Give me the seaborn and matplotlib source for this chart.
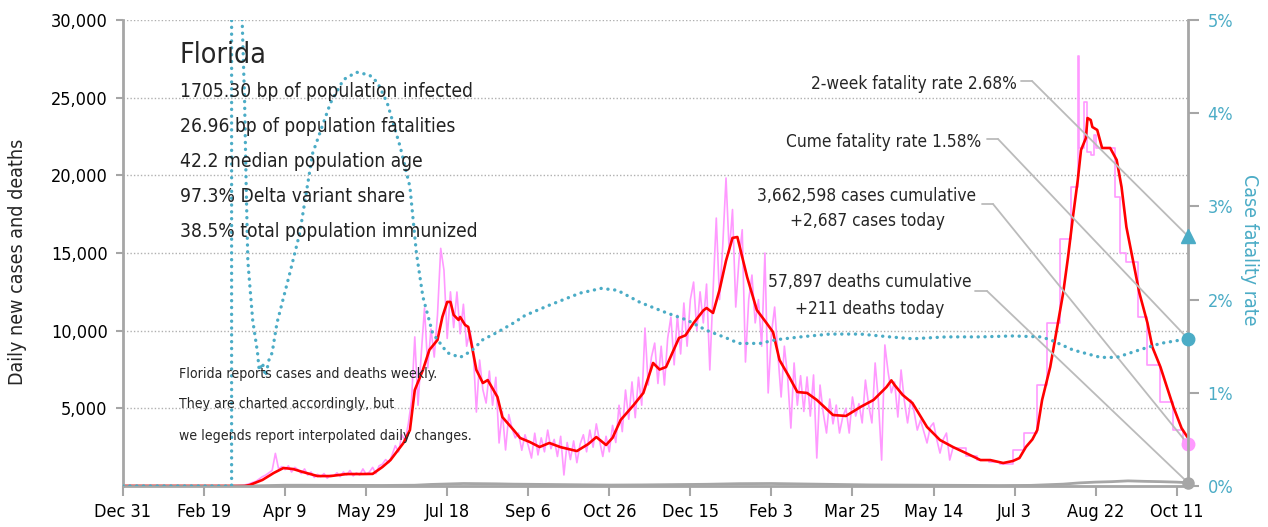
import numpy as np
import pandas as pd
import matplotlib.pyplot as plt
import matplotlib.dates as mdates
import seaborn as sns

sns.set_theme(style="white")
plt.rcParams["font.family"] = ["DejaVu Sans"]
plt.rcParams["font.stretch"] = "condensed"

START = pd.Timestamp("2019-12-31")

# --- data, x given as days since Dec 31 2019 ---

# daily new cases, read every 2 days while Florida reported daily
pink_daily_first_day = 70
pink_daily = [
    10, 30, 50, 90, 150, 230, 300, 450, 600, 700, 850, 1000, 2100, 1100, 1250, 1050,
    1300, 900, 1200, 1050, 800, 1100, 700, 900, 550, 750, 600, 800, 500, 700, 650,
    850, 600, 900, 700, 1000, 650, 850, 700, 1100, 750, 900, 1200, 800, 1300, 1400,
    1700, 1500, 2000, 2600, 2200, 3300, 2900, 4000, 5500, 9600, 5200, 8500, 11460,
    7600, 10100, 8300, 11000, 15300, 13900, 9500, 12500, 10200, 12490, 9800, 11700,
    9000, 10000, 8800, 4760, 8110, 6200, 5340, 7400, 5200, 7000, 2770, 4800, 2320,
    4600, 3700, 3100, 3410, 2300, 3300, 2600,
    1800, 3400, 2000, 3100, 2200, 3600, 2400, 3000, 1900, 3200, 710, 2800, 1700,
    2900, 1500, 2700, 3300, 2200, 3600, 2500, 4000, 2900, 1900, 3200, 2200, 3900,
    2800, 5200, 3500, 6180, 4300, 6700, 4400, 7000, 5200, 10170, 6500, 8300, 9200, 6600,
    9000, 6500, 9500, 10880, 7800, 11000, 8500, 11780, 9000, 12000, 13130, 10000,
    12500, 10500, 13000, 7470, 12500, 17250, 12000, 15500, 19830, 15000, 17800,
    11520, 14550, 16500, 7980, 12000, 13580, 10500, 12000, 9000, 15000, 5990, 9800,
    11520, 8500, 5730, 9000, 7020, 3730, 7920, 5200, 7100, 4800,
    7020, 4500, 7150, 1800, 6500, 4700, 3410, 5600, 4000, 5210, 3410, 4440, 5000,
    3410, 5730, 4500, 5300, 4060, 6820, 5200, 4060, 7920, 5500, 1670, 9080, 7340,
    6000, 6700, 4440, 7470, 5500, 4060, 5540, 4800, 3600, 4250, 3500, 2770, 3800,
    4060, 3000, 2120, 3000, 3410, 1670, 2450,
]

# weekly reporting from June 2021 (drawn as steps)
pink_week_days = [512, 520, 527, 534, 541, 549, 556, 564, 570, 578, 585, 589, 590,
                  593, 595, 597, 599, 600, 612, 615, 619, 626, 632, 640, 648, 654, 657]
pink_week_cases = [2450, 1900, 1650, 1550, 1420, 2320, 3410, 6500, 10490, 15900,
                   19250, 27700, 21760, 24700, 21500, 21300, 22600, 21760, 18610,
                   15000, 14420, 10880, 7790, 5410, 3600, 2687, 2687]

# 7-day average of new cases
red_days = [0, 75, 78, 86, 93, 99, 105, 111, 120, 128, 138, 148, 154, 160, 165, 173,
            177, 180, 185, 189, 194, 197, 200, 202, 204, 207, 208, 211, 213, 218, 222,
            225, 231, 234, 241, 245, 251, 257, 263, 270, 280, 287, 292, 298, 302, 307,
            315, 321, 327, 331, 335, 343, 347, 352, 358, 360, 364, 368, 372, 376, 379,
            385, 391, 397, 401, 405, 411, 416, 422, 428, 438, 446, 455, 463, 471, 474,
            476, 481, 487, 496, 504, 512, 520, 529, 535, 543, 549, 553, 557, 561, 564,
            567, 572, 576, 580, 583, 586, 589, 591, 594, 595, 597, 598, 601, 604, 609,
            613, 616, 619, 623, 627, 632, 635, 640, 644, 648, 653, 657]
red_cases = [0, 0, 60, 390, 840, 1160, 1090, 900, 640, 640, 770, 770, 780, 1220, 1670,
             2770, 3600, 6180, 7470, 8760, 9400, 10880, 11850, 11850, 11010, 10690,
             10880, 10370, 10240, 7470, 6630, 6820, 5730, 4440, 3600, 3090, 2830, 2510,
             2770, 2500, 2250, 2700, 3150, 2640, 3100, 4250, 5210, 5990, 7920, 7500,
             7660, 9530, 9700, 10490, 11300, 11460, 11140, 12620, 14500, 15970, 16030,
             13460, 11330, 10490, 9910, 8110, 7020, 6050, 5990, 5540, 4570, 4510, 5090,
             5540, 6370, 6800, 6500, 5860, 5340, 3800, 2960, 2510, 2120, 1670, 1670,
             1480, 1610, 1800, 2510, 3000, 3600, 5540, 7660, 10040, 12430, 14740, 17320,
             19700, 21630, 22400, 23690, 23560, 23110, 22920, 21760, 21760, 20990,
             19250, 16670, 14550, 12430, 10490, 8950, 7660, 6370, 5090, 3730, 3090]

# daily deaths
death_days = [0, 70, 80, 90, 100, 110, 120, 140, 160, 180, 190, 200, 210, 220, 230,
              240, 250, 260, 280, 300, 320, 340, 360, 380, 400, 420, 440, 460, 480,
              500, 520, 540, 560, 580, 590, 600, 610, 620, 630, 640, 650, 657]
deaths = [0, 0, 10, 30, 50, 50, 45, 40, 35, 50, 100, 130, 160, 150, 140, 120, 110,
          100, 80, 60, 70, 90, 110, 150, 160, 130, 100, 70, 60, 50, 40, 30, 40, 120,
          200, 250, 280, 330, 300, 280, 250, 211]

# case fatality rate, %
cfr_days = [0, 67, 67, 73, 73.5, 75, 76, 77, 78, 80, 83, 84, 86, 88, 90, 92, 95, 103,
            109, 117, 128, 136, 144, 152, 157, 163, 171, 177, 181, 185, 191, 200, 208,
            215, 222, 231, 241, 248, 263, 282, 295, 305, 319, 335, 348, 360, 372, 380,
            393, 403, 418, 436, 455, 473, 487, 508, 529, 549, 566, 572, 586, 603, 613,
            627, 640, 657]
cfr = [0, 0, 8, 8, 5.0, 4.14, 3.21, 2.42, 2.2, 1.78, 1.43, 1.24, 1.32, 1.18, 1.35,
       1.43, 1.75, 2.29, 2.71, 3.57, 4.11, 4.36, 4.44, 4.41, 4.33, 4.11, 3.64, 3.21,
       2.50, 2.03, 1.64, 1.43, 1.38, 1.45, 1.57, 1.65, 1.75, 1.83, 1.94, 2.07, 2.12,
       2.10, 1.97, 1.86, 1.78, 1.67, 1.59, 1.53, 1.53, 1.57, 1.60, 1.63, 1.63, 1.60,
       1.58, 1.60, 1.60, 1.61, 1.60, 1.57, 1.46, 1.38, 1.38, 1.46, 1.53, 1.58]

last_day = 657
two_week_cfr = 2.68
cume_cfr = 1.58
cases_today = 2687
deaths_today = 211

x_tick_days = list(range(0, 651, 50))
x_tick_labels = ["Dec 31", "Feb 19", "Apr 9", "May 29", "Jul 18", "Sep 6", "Oct 26",
                 "Dec 15", "Feb 3", "Mar 25", "May 14", "Jul 3", "Aug 22", "Oct 11"]

info_title = "Florida"
info_lines = ["1705.30 bp of population infected",
              "26.96 bp of population fatalities",
              "42.2 median population age",
              "97.3% Delta variant share",
              "38.5% total population immunized"]
note_lines = ["Florida reports cases and deaths weekly.",
              "They are charted accordingly, but",
              "we legends report interpolated daily changes."]


def to_dates(days):
    return START + pd.to_timedelta(np.asarray(days, dtype=float), unit="D")


PINK = "#ff99ff"
RED = "#ff0000"
GREY = "#a6a6a6"
TEAL = "#4bacc6"

W, H = 1268, 527
fig = plt.figure(figsize=(W / 100, H / 100), dpi=100)
ax = fig.add_axes([123 / W, 41 / H, 1065 / W, 466 / H])
ax2 = ax.twinx()

pink_days = pink_daily_first_day + 2 * np.arange(len(pink_daily))
sns.lineplot(x=to_dates(pink_days), y=pink_daily, ax=ax, color=PINK, lw=1.2,
             estimator=None, sort=False)
sns.lineplot(x=to_dates(pink_week_days), y=pink_week_cases, ax=ax, color=PINK, lw=1.2,
             estimator=None, sort=False, drawstyle="steps-post")
sns.lineplot(x=to_dates(death_days), y=deaths, ax=ax, color=GREY, lw=2.0,
             estimator=None, sort=False)
sns.lineplot(x=to_dates(red_days), y=red_cases, ax=ax, color=RED, lw=1.9,
             estimator=None, sort=False)
sns.lineplot(x=to_dates(cfr_days), y=cfr, ax=ax2, color=TEAL, lw=2.4,
             estimator=None, sort=False)
ax2.lines[-1].set_linestyle((0, (0.05, 2.0)))
ax2.lines[-1].set_dash_capstyle("round")

end = mdates.date2num(to_dates([last_day])[0])
ax.plot([end], [cases_today], "o", color=PINK, ms=9, clip_on=False, zorder=5)
ax.plot([end], [deaths_today], "o", color=GREY, ms=8, clip_on=False, zorder=5)
ax2.plot([end], [cume_cfr], "o", color=TEAL, ms=9, clip_on=False, zorder=5)
ax2.plot([end], [two_week_cfr], "^", color=TEAL, ms=10, clip_on=False, zorder=5)

ax.set_xlim(mdates.date2num(START), end)
ax.set_ylim(0, 30000)
ax2.set_ylim(0, 5)

ax.set_xticks(to_dates(x_tick_days))
ax.set_xticklabels(x_tick_labels)
ax.set_yticks(range(5000, 30001, 5000))
ax.set_yticklabels([f"{v:,}" for v in range(5000, 30001, 5000)])
ax2.set_yticks(range(0, 6))
ax2.set_yticklabels([f"{v}%" for v in range(0, 6)])

for y in range(5000, 30001, 5000):
    ax.axhline(y, color="#b0b0b0", lw=1.0, ls=(0, (1, 1.5)), zorder=0)

for a in (ax, ax2):
    for s in a.spines.values():
        s.set_color(GREY)
        s.set_linewidth(2)
    a.spines["top"].set_visible(False)
ax.spines["right"].set_visible(False)
ax2.spines["left"].set_visible(False)
ax2.spines["bottom"].set_visible(False)

ax.tick_params(axis="x", length=7, width=1.5, color=GREY, pad=5, labelsize=13,
               labelcolor="black", bottom=True)
ax.tick_params(axis="y", length=5, width=1.5, color=GREY, pad=6, labelsize=13,
               labelcolor="black", left=True)
ax2.tick_params(axis="y", length=8, width=1.5, color=GREY, pad=6, labelsize=13,
                labelcolor=TEAL, right=True)

ax.set_xlabel("")
ax.set_ylabel("")
ax2.set_ylabel("")
fig.text(18 / W, 1 - 262 / H, "Daily new cases and deaths", rotation=90,
         ha="center", va="center", fontsize=14)
fig.text(1250 / W, 1 - 250 / H, "Case fatality rate", rotation=270,
         ha="center", va="center", fontsize=14, color=TEAL)

# info block
fig.text(180 / W, 1 - 63 / H, info_title, fontsize=20.5, va="baseline")
for i, line in enumerate(info_lines):
    fig.text(180 / W, 1 - (97 + 35 * i) / H, line, fontsize=13.8, va="baseline",
             color="#222222")
for i, line in enumerate(note_lines):
    fig.text(179 / W, 1 - [378, 408, 440][i] / H, line, fontsize=10.1, va="baseline")

# labels with leader lines to the end markers
labels = [
    (["2-week fatality rate 2.68%"], 1017, [89], "right", (1021, 1032, 81),
     ax2, two_week_cfr),
    (["Cume fatality rate 1.58%"], 981, [147], "right", (987, 998, 139),
     ax2, cume_cfr),
    (["3,662,598 cases cumulative", "+2,687 cases today"], 867, [201, 226], "center",
     (982, 993, 204), ax, cases_today),
    (["57,897 deaths cumulative", "+211 deaths today"], 870, [287, 314], "center",
     (975, 987, 291), ax, deaths_today),
]
for texts, tx, ty, ha, (x0, x1, ly), a, val in labels:
    for t, yb in zip(texts, ty):
        fig.text(tx / W, 1 - yb / H, t, fontsize=12.4, ha=ha, va="baseline")
    ax.annotate("", xy=(x1, H - ly), xycoords="figure pixels",
                xytext=(x0, H - ly), textcoords="figure pixels",
                arrowprops=dict(arrowstyle="-", color="#bbbbbb", lw=1.3,
                                shrinkA=0, shrinkB=0))
    ax.annotate("", xy=(end, val), xycoords=a.transData,
                xytext=(x1, H - ly), textcoords="figure pixels",
                arrowprops=dict(arrowstyle="-", color="#bbbbbb", lw=1.3,
                                shrinkA=0, shrinkB=0))

fig.savefig("out.png", dpi=100)
